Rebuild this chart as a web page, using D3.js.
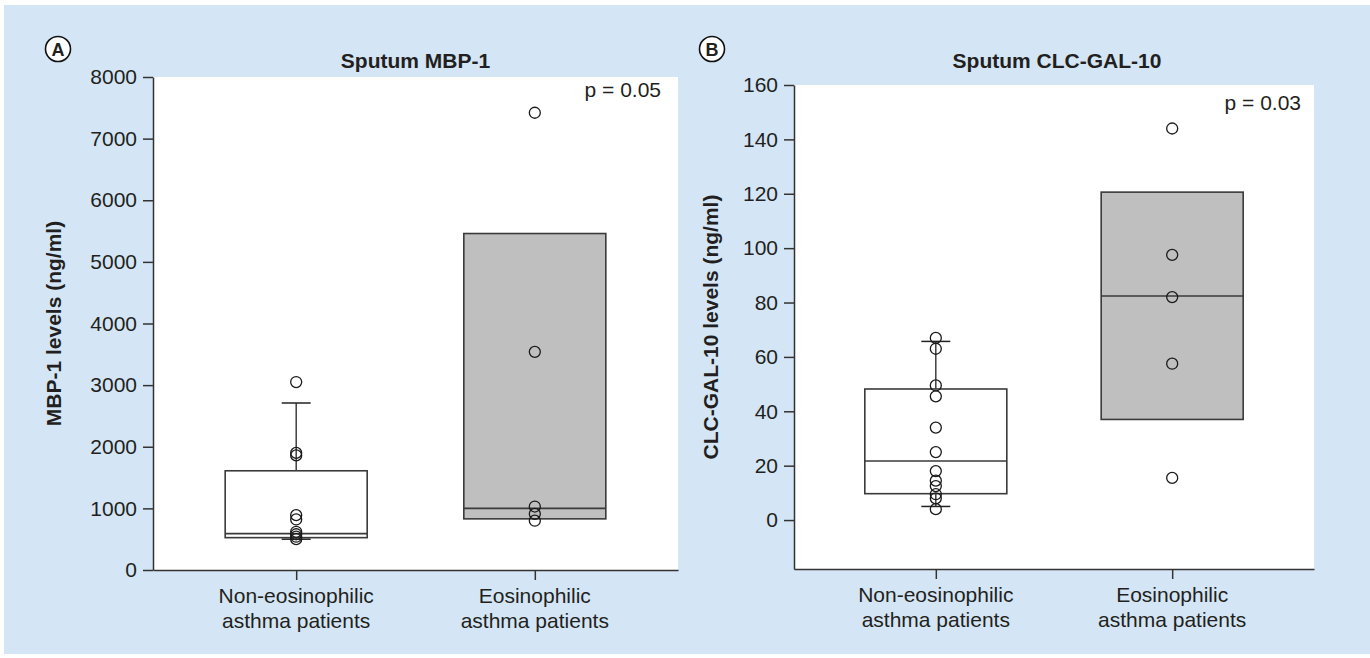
<!DOCTYPE html>
<html>
<head>
<meta charset="utf-8">
<script src="https://cdn.jsdelivr.net/npm/d3@7"></script>
<style>
  body { margin: 0; background: #fff; }
  text { font-family: "Liberation Sans", Arial, sans-serif; fill: #231f20; }
</style>
</head>
<body>
<div id="chart"></div>
<script>
// categories (two-line labels)
const groups = ["Non-eosinophilic asthma patients", "Eosinophilic asthma patients"];
const groupLines = [["Non-eosinophilic", "asthma patients"], ["Eosinophilic", "asthma patients"]];

// panel A : sputum MBP-1
const mbpTicks = [0, 1000, 2000, 3000, 4000, 5000, 6000, 7000, 8000];
const mbpNonEos = [3050, 1900, 1860, 890, 820, 620, 580, 540, 500];
const mbpEos = [7420, 3540, 1030, 910, 800];
const mbpQ1 = [525, 830];
const mbpMedian = [590, 1000];
const mbpQ3 = [1610, 5460];
const mbpLow = [500, null];
const mbpHigh = [2710, null];

// panel B : sputum CLC-GAL-10
const clcTicks = [0, 20, 40, 60, 80, 100, 120, 140, 160];
const clcNonEos = [67, 63, 49.5, 45.5, 34, 25, 18, 14.5, 12.5, 9.5, 8, 4];
const clcEos = [144, 97.5, 82, 57.5, 15.5];
const clcQ1 = [9.7, 37];
const clcMedian = [21.7, 82.4];
const clcQ3 = [48.2, 120.6];
const clcLow = [5, null];
const clcHigh = [65.7, null];

const W = 1370, H = 658;
const fontSize = 21;

const svg = d3.select("#chart").append("svg")
  .attr("width", W).attr("height", H);

// light blue figure background
svg.append("rect")
  .attr("x", 4).attr("y", 5)
  .attr("width", W - 4).attr("height", 649)
  .attr("fill", "#d4e6f5");

function drawPanel(p) {
  const g = svg.append("g").attr("transform", "translate(" + p.left + "," + p.top + ")");

  const x = d3.scalePoint().domain(groups).range([0, p.width]).padding(0.6);
  const y = d3.scaleLinear().domain(p.domain).range([p.height, 0]);

  // white plot area
  g.append("rect")
    .attr("x", 0).attr("y", 0)
    .attr("width", p.width).attr("height", p.height)
    .attr("fill", "#fff");

  // y axis
  const yAxis = g.append("g")
    .call(d3.axisLeft(y).tickValues(p.ticks).tickSize(10).tickSizeOuter(0).tickPadding(6).tickFormat(d3.format("d")));
  yAxis.selectAll("text").style("font-size", fontSize + "px").attr("fill", "#231f20");
  yAxis.selectAll("line, path").attr("stroke", "#333").attr("stroke-width", 1.5);

  // x axis
  const xAxis = g.append("g")
    .attr("transform", "translate(0," + p.height + ")")
    .call(d3.axisBottom(x).tickSize(10).tickSizeOuter(0).tickFormat(""));
  xAxis.selectAll("line, path").attr("stroke", "#333").attr("stroke-width", 1.5);

  groups.forEach((gr, i) => {
    const t = g.append("text")
      .attr("x", x(gr))
      .attr("y", p.height + 33)
      .attr("text-anchor", "middle")
      .style("font-size", fontSize + "px");
    groupLines[i].forEach((ln, j) => {
      t.append("tspan").attr("x", x(gr)).attr("dy", j === 0 ? 0 : 25).text(ln);
    });
  });

  const boxW = 142, capW = 29;

  groups.forEach((gr, i) => {
    const cx = x(gr);
    // whiskers
    if (p.high[i] != null) {
      g.append("line").attr("x1", cx).attr("x2", cx)
        .attr("y1", y(p.q3[i])).attr("y2", y(p.high[i]))
        .attr("stroke", "#222").attr("stroke-width", 1.3);
      g.append("line").attr("x1", cx - capW / 2).attr("x2", cx + capW / 2)
        .attr("y1", y(p.high[i])).attr("y2", y(p.high[i]))
        .attr("stroke", "#222").attr("stroke-width", 1.5);
    }
    if (p.low[i] != null) {
      g.append("line").attr("x1", cx).attr("x2", cx)
        .attr("y1", y(p.q1[i])).attr("y2", y(p.low[i]))
        .attr("stroke", "#222").attr("stroke-width", 1.3);
      g.append("line").attr("x1", cx - capW / 2).attr("x2", cx + capW / 2)
        .attr("y1", y(p.low[i])).attr("y2", y(p.low[i]))
        .attr("stroke", "#222").attr("stroke-width", 1.5);
    }
    // box
    g.append("rect")
      .attr("x", cx - boxW / 2)
      .attr("y", y(p.q3[i]))
      .attr("width", boxW)
      .attr("height", y(p.q1[i]) - y(p.q3[i]))
      .attr("fill", i === 0 ? "#fff" : "#bfbfbf")
      .attr("stroke", "#3a3a3a").attr("stroke-width", 1.6);
    // median
    g.append("line")
      .attr("x1", cx - boxW / 2).attr("x2", cx + boxW / 2)
      .attr("y1", y(p.median[i])).attr("y2", y(p.median[i]))
      .attr("stroke", "#3a3a3a").attr("stroke-width", 1.6);
  });

  // individual points
  [p.pts0, p.pts1].forEach((pts, i) => {
    g.selectAll(null).data(pts).enter().append("circle")
      .attr("cx", x(groups[i]))
      .attr("cy", d => y(d))
      .attr("r", 5.5)
      .attr("fill", "none")
      .attr("stroke", "#1a1a1a").attr("stroke-width", 1.3);
  });

  // title
  g.append("text")
    .attr("x", p.width / 2 + p.titleDx).attr("y", p.titleY)
    .attr("text-anchor", "middle")
    .style("font-size", fontSize + "px").style("font-weight", "bold")
    .text(p.title);

  // p value
  g.append("text")
    .attr("x", p.width - p.pRight).attr("y", p.pY)
    .attr("text-anchor", "end")
    .style("font-size", fontSize + "px")
    .text(p.pText);

  // y label
  g.append("text")
    .attr("transform", "translate(" + p.labelX + "," + (p.height / 2) + ") rotate(-90)")
    .attr("text-anchor", "middle")
    .style("font-size", fontSize + "px").style("font-weight", "bold")
    .text(p.yLabel);

  // circled panel letter
  g.append("circle")
    .attr("cx", p.letterX).attr("cy", p.letterY).attr("r", 12.5)
    .attr("fill", "#fff").attr("stroke", "#111").attr("stroke-width", 1.6);
  g.append("text")
    .attr("x", p.letterX).attr("y", p.letterY + 6.5)
    .attr("text-anchor", "middle")
    .style("font-size", "18px").style("font-weight", "bold")
    .text(p.letter);
}

drawPanel({
  left: 153, top: 77, width: 525, height: 493,
  domain: [0, 8000], ticks: mbpTicks,
  pts0: mbpNonEos, pts1: mbpEos,
  q1: mbpQ1, median: mbpMedian, q3: mbpQ3, low: mbpLow, high: mbpHigh,
  title: "Sputum MBP-1", titleY: -9, titleDx: 0,
  pText: "p = 0.05", pRight: 17, pY: 20,
  yLabel: "MBP-1 levels (ng/ml)", labelX: -92,
  letter: "A", letterX: -95, letterY: -28
});

drawPanel({
  left: 794, top: 85, width: 520, height: 484,
  domain: [-18, 160], ticks: clcTicks,
  pts0: clcNonEos, pts1: clcEos,
  q1: clcQ1, median: clcMedian, q3: clcQ3, low: clcLow, high: clcHigh,
  title: "Sputum CLC-GAL-10", titleY: -17, titleDx: 3,
  pText: "p = 0.03", pRight: 13, pY: 25,
  yLabel: "CLC-GAL-10 levels (ng/ml)", labelX: -76,
  letter: "B", letterX: -82, letterY: -36
});
</script>
</body>
</html>
